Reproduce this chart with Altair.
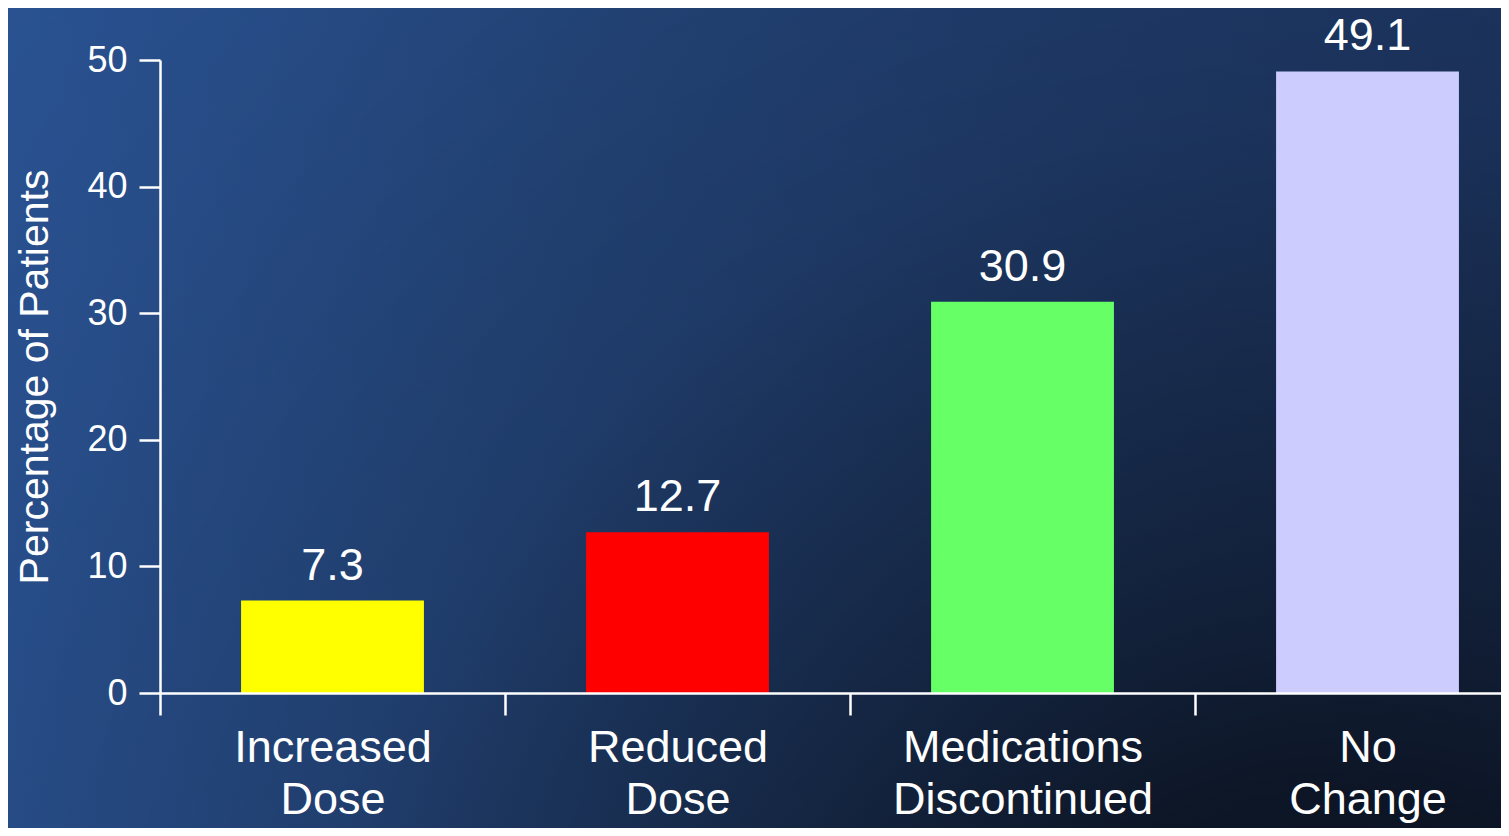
import altair as alt
import pandas as pd

categories = ["Increased Dose", "Reduced Dose", "Medications Discontinued", "No Change"]
values = [7.3, 12.7, 30.9, 49.1]
bar_colors = ["#FFFF00", "#FF0000", "#66FF66", "#CCCCFF"]
y_ticks = [0, 10, 20, 30, 40, 50]

df = pd.DataFrame({"category": categories, "value": values, "color": bar_colors})

FONT = "Liberation Sans"
PLOT_W = 1341
PLOT_H = 633
PAD = {"left": 152, "top": 52, "right": 0, "bottom": 135}

x_enc = alt.X(
    "category:N",
    sort=categories,
    scale=alt.Scale(range=[0, 1380], paddingInner=0, paddingOuter=0),
    axis=alt.Axis(
        title=None,
        labelAngle=0,
        labelExpr="split(datum.label, ' ')",
        labelFont=FONT,
        labelFontSize=45,
        labelLineHeight=52,
        labelColor="white",
        labelPadding=10,
        labelLimit=0,
        tickBand="extent",
        tickSize=22,
        tickColor="white",
        tickWidth=2.5,
        domainColor="white",
        domainWidth=2.5,
        labelOverlap=False,
        zindex=1,
    ),
)
y_enc = alt.Y(
    "value:Q",
    scale=alt.Scale(domain=[0, 50], nice=False),
    axis=alt.Axis(
        title="Percentage of Patients",
        titleFont=FONT,
        titleFontSize=41,
        titleFontWeight="normal",
        titleColor="white",
        titlePadding=30,
        values=y_ticks,
        labelFont=FONT,
        labelFontSize=36,
        labelColor="white",
        labelPadding=12,
        tickSize=21,
        tickColor="white",
        tickWidth=2.5,
        domainColor="white",
        domainWidth=2.5,
        grid=False,
        zindex=1,
    ),
)

base_grad = alt.LinearGradient(
    gradient="linear",
    x1=0, y1=0, x2=1, y2=0,
    stops=[
        alt.GradientStop(color="#2a5393", offset=0),
        alt.GradientStop(color="#25487f", offset=0.4),
        alt.GradientStop(color="#1f3a6a", offset=1),
    ],
)
shade_grad = alt.RadialGradient(
    gradient="radial",
    x1=0.88, y1=1.0, r1=0,
    x2=0.88, y2=1.0, r2=1.2,
    stops=[
        alt.GradientStop(color="rgba(8,12,20,0.92)", offset=0),
        alt.GradientStop(color="rgba(8,12,20,0.8)", offset=0.21),
        alt.GradientStop(color="rgba(8,12,20,0.55)", offset=0.35),
        alt.GradientStop(color="rgba(8,12,20,0.22)", offset=0.58),
        alt.GradientStop(color="rgba(8,12,20,0.06)", offset=0.83),
        alt.GradientStop(color="rgba(8,12,20,0)", offset=1),
    ],
)

bg_data = pd.DataFrame({"bg": [0]})
bg_enc = dict(
    x=alt.value(-PAD["left"] - 8),
    x2=alt.value(PLOT_W + 8),
    y=alt.value(-PAD["top"] - 8),
    y2=alt.value(PLOT_H + PAD["bottom"] + 8),
)
bg1 = alt.Chart(bg_data).mark_rect(fill=base_grad, strokeWidth=0).encode(**bg_enc)
bg2 = alt.Chart(bg_data).mark_rect(fill=shade_grad, strokeWidth=0).encode(**bg_enc)

base = alt.Chart(df)

bars = base.mark_bar(width=alt.RelativeBandSize(0.53)).encode(
    x=x_enc,
    y=y_enc,
    color=alt.Color("color:N", scale=None, legend=None),
)

labels = base.mark_text(
    font=FONT, fontSize=45, color="white", baseline="alphabetic", dy=-21
).encode(
    x=alt.X("category:N", sort=categories),
    y=alt.Y("value:Q"),
    text=alt.Text("value:Q", format=".1f"),
)

chart = (
    alt.layer(bg1, bg2, bars, labels)
    .properties(
        width=PLOT_W,
        height=PLOT_H,
        autosize=alt.AutoSizeParams(type="none"),
        padding=PAD,
        background="#1f3a6a",
    )
    .configure_view(stroke=None)
)

chart.save("out.html", embed_options={"renderer": "svg", "actions": False})
